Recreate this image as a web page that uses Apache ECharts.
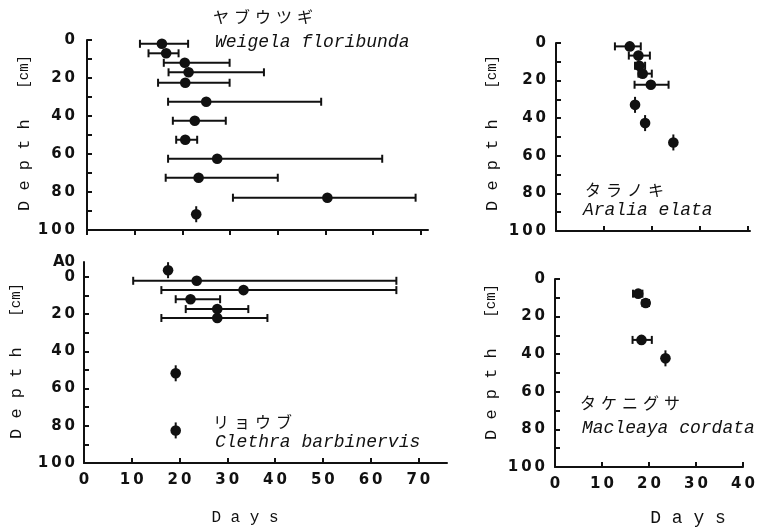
<!DOCTYPE html>
<html>
<head>
<meta charset="utf-8">
<script src="https://cdn.jsdelivr.net/npm/echarts@6/dist/echarts.min.js"></script>
<style>
  html, body { margin: 0; padding: 0; background: #fff; }
  #main { width: 766px; height: 528px; }
</style>
</head>
<body>
<div id="main"></div>
<script>
// ヤブウツギ Weigela floribunda
var weigelaDepth = [2, 7, 12, 17, 22.5, 32.5, 42.5, 52.5, 62.5, 72.5, 83, 91.7];
var weigelaMean = [15.7, 16.6, 20.5, 21.3, 20.6, 25.0, 22.6, 20.6, 27.3, 23.4, 50.4, 22.9];
var weigelaLow = [11.1, 12.9, 16.1, 17.1, 14.9, 17.0, 18.0, 18.7, 17.0, 16.5, 30.6, 22.9];
var weigelaHigh = [21.2, 19.2, 29.9, 37.1, 29.9, 49.1, 29.1, 23.1, 61.9, 40.0, 68.9, 22.9];

// リョウブ Clethra barbinervis (first point = A0 layer)
var clethraDepth = [-3.6, 2.1, 7.1, 12.0, 17.3, 22.1, 51.8, 82.5];
var clethraMean = [17.6, 23.6, 33.4, 22.3, 27.9, 27.9, 19.2, 19.2];
var clethraLow = [17.6, 10.3, 16.2, 19.2, 21.3, 16.2, 19.2, 19.2];
var clethraHigh = [17.6, 65.4, 65.4, 28.5, 34.4, 38.4, 19.2, 19.2];

// タラノキ Aralia elata
var araliaDepth = [1.8, 6.7, 12.1, 16.3, 22.2, 32.9, 42.6, 52.9];
var araliaMean = [15.4, 17.2, 17.4, 18.1, 19.8, 16.5, 18.6, 24.5];
var araliaLow = [12.3, 15.2, 16.5, 17.2, 16.4, 16.5, 18.6, 24.5];
var araliaHigh = [17.7, 19.6, 18.6, 20.0, 23.5, 16.5, 18.6, 24.5];

// タケニグサ Macleaya cordata
var macleayaDepth = [7.8, 12.8, 32.4, 42.2];
var macleayaMean = [17.7, 19.3, 18.4, 23.5];
var macleayaLow = [16.6, 18.6, 16.5, 23.5];
var macleayaHigh = [18.6, 20.0, 20.6, 23.5];

var depthTicks = [0, 10, 20, 30, 40, 50, 60, 70, 80, 90, 100];
var depthLabels = [0, 20, 40, 60, 80, 100];
var dayTicksWide = [0, 10, 20, 30, 40, 50, 60, 70];
var dayTicksNarrow = [0, 10, 20, 30, 40];

var ink = '#111';
var numFont = 'DejaVu Sans';

function spaced(v) {
  return String(v).split('').join('\u2009');
}

function rows(mean, depth, low, high) {
  return mean.map(function (m, i) { return [m, depth[i], low[i], high[i]]; });
}

function renderBar(params, api) {
  var p = api.coord([api.value(0), api.value(1)]);
  var l = api.coord([api.value(2), api.value(1)]);
  var h = api.coord([api.value(3), api.value(1)]);
  var st = { stroke: ink, lineWidth: 2 };
  var kids = [];
  if (h[0] - l[0] > 0.5) {
    kids.push({ type: 'line', shape: { x1: l[0], y1: l[1], x2: h[0], y2: h[1] }, style: st });
    kids.push({ type: 'line', shape: { x1: l[0], y1: l[1] - 4, x2: l[0], y2: l[1] + 4 }, style: st });
    kids.push({ type: 'line', shape: { x1: h[0], y1: h[1] - 4, x2: h[0], y2: h[1] + 4 }, style: st });
  } else {
    kids.push({ type: 'line', shape: { x1: p[0], y1: p[1] - 8, x2: p[0], y2: p[1] + 8 }, style: st });
  }
  kids.push({ type: 'circle', shape: { cx: p[0], cy: p[1], r: 5.3 }, style: { fill: ink } });
  return { type: 'group', children: kids };
}

function yAxis(idx, min, margin) {
  return {
    gridIndex: idx, type: 'value', inverse: true, min: min, max: 100,
    axisLine: { show: true, onZero: false, lineStyle: { color: ink, width: 2 } },
    axisTick: { show: true, inside: true, length: 5, customValues: depthTicks, lineStyle: { color: ink, width: 2 } },
    axisLabel: {
      customValues: min < 0 ? [min].concat(depthLabels) : depthLabels,
      margin: margin, color: ink, fontFamily: numFont, fontWeight: 'bold', fontSize: 15,
      formatter: function (v) { return v < 0 ? 'A0' : spaced(v); }
    },
    splitLine: { show: false }
  };
}

function xAxis(idx, max, ticks, showLabels, inside) {
  return {
    gridIndex: idx, type: 'value', min: 0, max: max,
    axisLine: { show: true, onZero: false, lineStyle: { color: ink, width: 2 } },
    axisTick: { show: true, inside: inside, length: 5, customValues: ticks, lineStyle: { color: ink, width: 2 } },
    axisLabel: {
      show: showLabels, customValues: ticks, margin: 10, color: ink,
      fontFamily: numFont, fontWeight: 'bold', fontSize: 15,
      formatter: function (v) { return spaced(v); }
    },
    splitLine: { show: false }
  };
}

function series(idx, data) {
  return {
    type: 'custom', xAxisIndex: idx, yAxisIndex: idx,
    renderItem: renderBar, encode: { x: 0, y: 1 }, data: data, silent: true
  };
}

// kana names with extra spacing between characters
function kana(str, x, y) {
  var parts = str.split('');
  var text = parts.map(function (c) { return '{c|' + c + '}'; }).join('{g|\u00a0}');
  return {
    type: 'text', x: x, y: y,
    style: {
      text: text, textAlign: 'left', textVerticalAlign: 'middle', fill: ink,
      rich: {
        c: { fontFamily: 'Noto Sans CJK JP', fontSize: 16, fill: ink },
        g: { fontSize: 16, width: 5 }
      }
    }
  };
}

function latin(str, x, y) {
  return {
    type: 'text', x: x, y: y,
    style: {
      text: str, textAlign: 'left', textVerticalAlign: 'middle', fill: ink,
      font: 'italic 18px "Liberation Mono"'
    }
  };
}

function depthTitle(x, y) {
  return {
    type: 'text', x: x, y: y, rotation: Math.PI / 2,
    style: {
      text: '{a|D e p t h   }{b|[cm]}', textAlign: 'center', textVerticalAlign: 'middle',
      rich: {
        a: { fontFamily: 'Liberation Mono', fontSize: 17, fill: ink },
        b: { fontFamily: 'Liberation Mono', fontSize: 14, fill: ink }
      }
    }
  };
}

function daysTitle(x, y, size) {
  return {
    type: 'text', x: x, y: y,
    style: {
      text: 'D a y s', textAlign: 'center', textVerticalAlign: 'middle', fill: ink,
      font: size + 'px "Liberation Mono"'
    }
  };
}

var chart = echarts.init(document.getElementById('main'));
chart.setOption({
  backgroundColor: '#fff',
  animation: false,
  grid: [
    { left: 87, top: 40, width: 341, height: 190 },
    { left: 84, top: 262, width: 363, height: 201 },
    { left: 556, top: 43, width: 194, height: 188 },
    { left: 555, top: 279, width: 188, height: 188 }
  ],
  xAxis: [
    xAxis(0, 71.5, dayTicksWide, false, false),
    xAxis(1, 76, dayTicksWide, true, true),
    xAxis(2, 40.5, dayTicksNarrow, false, true),
    xAxis(3, 40, dayTicksNarrow, true, true)
  ],
  yAxis: [
    yAxis(0, 0, 12),
    yAxis(1, -8, 9),
    yAxis(2, 0, 10),
    yAxis(3, 0, 10)
  ],
  series: [
    series(0, rows(weigelaMean, weigelaDepth, weigelaLow, weigelaHigh)),
    series(1, rows(clethraMean, clethraDepth, clethraLow, clethraHigh)),
    series(2, rows(araliaMean, araliaDepth, araliaLow, araliaHigh)),
    series(3, rows(macleayaMean, macleayaDepth, macleayaLow, macleayaHigh))
  ],
  graphic: [
    kana('ヤブウツギ', 213, 17),
    latin('Weigela floribunda', 215, 42),
    kana('タラノキ', 585, 190),
    latin('Aralia elata', 583, 210),
    kana('リョウブ', 213, 422),
    latin('Clethra barbinervis', 215, 442),
    kana('タケニグサ', 580, 403),
    latin('Macleaya cordata', 582, 428),
    depthTitle(24, 133),
    depthTitle(16, 361),
    depthTitle(492, 133),
    depthTitle(491, 362),
    daysTitle(245, 518, 16),
    daysTitle(688, 518, 18)
  ]
});
</script>
</body>
</html>
